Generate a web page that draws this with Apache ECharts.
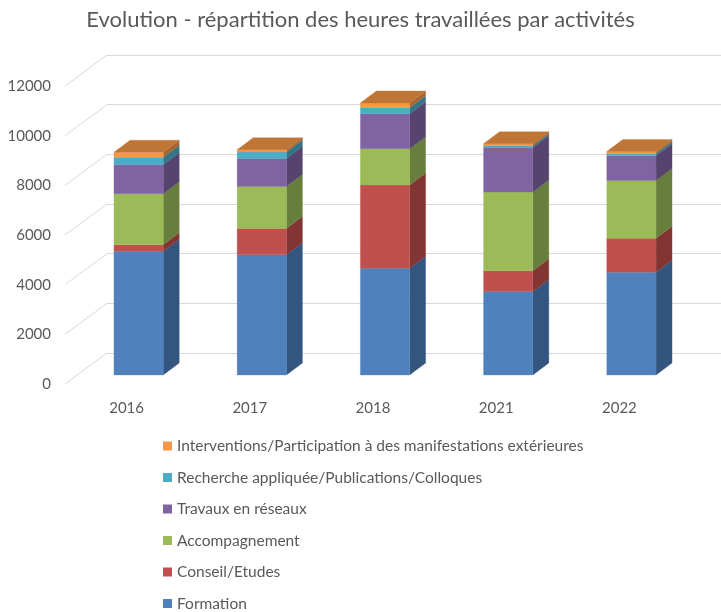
<!DOCTYPE html>
<html><head><meta charset="utf-8">
<script src="https://cdn.jsdelivr.net/npm/echarts@6/dist/echarts.min.js"></script>
<style>html,body{margin:0;padding:0;background:#fff}#c{width:721px;height:612px}</style>
</head><body><div id="c"></div>
<script>
const categories = ['2016', '2017', '2018', '2021', '2022'];
const seriesNames = ['Formation', 'Conseil/Etudes', 'Accompagnement', 'Travaux en réseaux',
  'Recherche appliquée/Publications/Colloques',
  'Interventions/Participation à des manifestations extérieures'];
const formation      = [4980, 4840, 4300, 3360, 4140];
const conseil        = [270, 1060, 3350, 835, 1370];
const accompagnement = [2050, 1690, 1465, 3170, 2320];
const travaux        = [1165, 1130, 1410, 1800, 995];
const recherche      = [305, 260, 240, 70, 95];
const interventions  = [200, 95, 190, 80, 80];
const yTicks = [0, 2000, 4000, 6000, 8000, 10000, 12000];

const allSeries = [formation, conseil, accompagnement, travaux, recherche, interventions];
const frontColors = ['#4F81BD', '#C0504D', '#9BBB59', '#8064A2', '#4BACC6', '#F79646'];
const sideColors  = ['#34557F', '#823532', '#687E3C', '#56446E', '#337486', '#A86630'];
const topColor = '#BE7536';
const FONT = 'Lato';
const TXT = '#595959';
const DX = 16, DY = 12;     // bar depth
const OX = 12, OY = 9;      // bar front offset from the front plane
const WX = 42, WY = 31;     // back wall offset

const chart = echarts.init(document.getElementById('c'), null, {renderer: 'canvas'});

function barSeries(idx) {
  const vals = allSeries[idx];
  const data = vals.map((v, i) => {
    let base = 0;
    for (let k = 0; k < idx; k++) base += allSeries[k][i];
    return [i, base, base + v];
  });
  const isTop = idx === allSeries.length - 1;
  return {
    type: 'custom', name: seriesNames[idx], xAxisIndex: 0, yAxisIndex: 0, z: 5,
    itemStyle: {color: frontColors[idx]},
    encode: {x: 0, y: [1, 2]},
    data: data,
    renderItem: function (params, api) {
      const c = api.value(0), b = api.value(1), t = api.value(2);
      const p0 = api.coord([c, b]), p1 = api.coord([c, t]);
      const bw = api.size([1, 0])[0] * 0.4;
      const x0 = p0[0] - bw / 2 + OX, x1 = x0 + bw;
      const yb = p0[1] - OY, yt = p1[1] - OY;
      const children = [
        {type: 'polygon', shape: {points: [[x1, yb], [x1 + DX, yb - DY], [x1 + DX, yt - DY], [x1, yt]]},
         style: {fill: sideColors[idx], stroke: sideColors[idx], lineWidth: 0.3}},
        {type: 'rect', shape: {x: x0, y: yt, width: bw, height: yb - yt},
         style: {fill: frontColors[idx], stroke: frontColors[idx], lineWidth: 0.3}}
      ];
      if (isTop) {
        children.push({type: 'polygon', shape: {points: [[x0, yt], [x1, yt], [x1 + DX, yt - DY], [x0 + DX, yt - DY]]},
          style: {fill: topColor, stroke: topColor, lineWidth: 0.3}});
      }
      return {type: 'group', children: children};
    }
  };
}

const diagSeries = {
  type: 'custom', xAxisIndex: 0, yAxisIndex: 0, silent: true, z: 1,
  data: yTicks.map(v => [0, v]),
  encode: {x: 0, y: 1},
  renderItem: function (params, api) {
    const p = api.coord([0, api.value(1)]);
    const x = params.coordSys.x;
    return {type: 'line', shape: {x1: x, y1: p[1], x2: x + WX, y2: p[1] - WY},
      style: {stroke: '#D9D9D9', lineWidth: 1}};
  }
};

const series = [diagSeries];
for (let i = 0; i < allSeries.length; i++) series.push(barSeries(i));

const option = {
  animation: false,
  color: frontColors,
  title: {
    text: 'Evolution - répartition des heures travaillées par activités',
    left: 'center', top: 4,
    textStyle: {fontFamily: FONT, fontSize: 22, fontWeight: 'normal', color: TXT}
  },
  legend: {
    orient: 'vertical', left: 163, top: 438, itemGap: 15.5, padding: 0,
    itemWidth: 9, itemHeight: 9, icon: 'rect',
    data: seriesNames.slice().reverse(),
    textStyle: {fontFamily: FONT, fontSize: 15.5, color: TXT}
  },
  grid: [
    {left: 65, right: 40, top: 86, bottom: 228},
    {left: 65 + WX, right: 40 - WX, top: 86 - WY, bottom: 228 + WY}
  ],
  xAxis: [
    {type: 'category', gridIndex: 0, data: categories,
     axisLine: {show: false}, axisTick: {show: false},
     axisLabel: {fontFamily: FONT, fontSize: 15, color: TXT, margin: 17}},
    {type: 'category', gridIndex: 1, data: categories, show: false}
  ],
  yAxis: [
    {type: 'value', gridIndex: 0, min: 0, max: 12000, interval: 2000,
     axisLine: {show: false}, axisTick: {show: false}, splitLine: {show: false},
     axisLabel: {fontFamily: FONT, fontSize: 15, color: TXT, margin: 14,
                 formatter: function (v) { return String(v); }}},
    {type: 'value', gridIndex: 1, min: 0, max: 12000, interval: 2000,
     axisLine: {show: false}, axisTick: {show: false}, axisLabel: {show: false},
     splitLine: {show: true, lineStyle: {color: '#D9D9D9', width: 1}}}
  ],
  series: series
};
chart.setOption(option);
</script></body></html>
